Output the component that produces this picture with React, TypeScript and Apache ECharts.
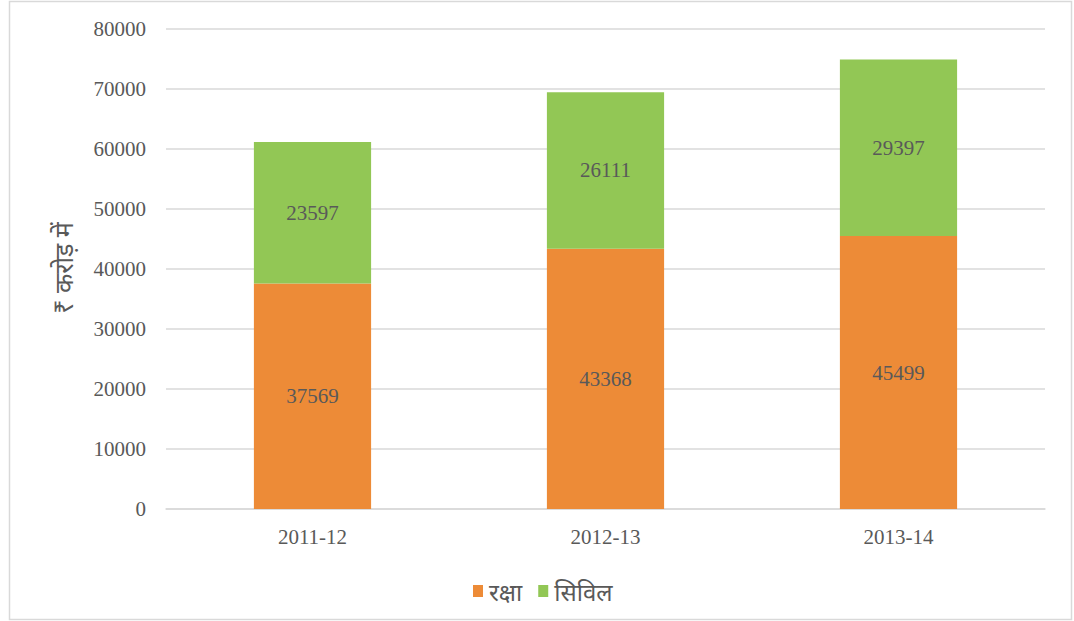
import React, { useEffect, useRef } from "react";
import * as echarts from "echarts";

const categories = ["2011-12", "2012-13", "2013-14"];
const rakshaValues = [37569, 43368, 45499];
const civilValues = [23597, 26111, 29397];
const seriesNames = ["रक्षा", "सिविल"];
const yAxisTitle = "₹ करोड़ में";

const SERIF = "'Liberation Serif', 'Times New Roman', serif";

export default function App() {
  const ref = useRef<HTMLDivElement>(null);
  useEffect(() => {
    const chart = echarts.init(ref.current!, null, { renderer: "svg" });
    const labelStyle = {
      show: true,
      position: "inside" as const,
      color: "#595959",
      fontFamily: SERIF,
      fontSize: 21,
    };
    chart.setOption({
      animation: false,
      backgroundColor: "#ffffff",
      grid: { left: 166, right: 29, top: 29, bottom: 112 },
      xAxis: {
        type: "category",
        data: categories,
        axisLine: { lineStyle: { color: "#D9D9D9", width: 1.5 } },
        axisTick: { show: false },
        axisLabel: {
          color: "#595959",
          fontFamily: SERIF,
          fontSize: 21,
          margin: 17,
        },
      },
      yAxis: {
        type: "value",
        min: 0,
        max: 80000,
        interval: 10000,
        axisLine: { show: false },
        axisTick: { show: false },
        splitLine: { lineStyle: { color: "#D9D9D9", width: 1.5 } },
        axisLabel: {
          color: "#595959",
          fontFamily: SERIF,
          fontSize: 21,
          margin: 20,
          formatter: (v: number) => String(v),
        },
      },
      legend: {
        bottom: 13,
        left: 468,
        itemWidth: 10,
        itemHeight: 12,
        itemGap: 16,
        icon: "rect",
        textStyle: {
          color: "#595959",
          fontFamily: "Noto Sans",
          fontSize: 24,
          padding: [0, 0, 0, 1],
        },
        data: seriesNames,
      },
      series: [
        {
          name: seriesNames[0],
          type: "bar",
          stack: "total",
          barWidth: "40%",
          data: rakshaValues,
          itemStyle: { color: "#ED8B37" },
          label: labelStyle,
        },
        {
          name: seriesNames[1],
          type: "bar",
          stack: "total",
          barWidth: "40%",
          data: civilValues,
          itemStyle: { color: "#92C755" },
          label: labelStyle,
        },
      ],
      graphic: [
        {
          type: "rect",
          shape: { x: 9.5, y: 1.5, width: 1062, height: 618 },
          style: { fill: "none", stroke: "#D9D9D9", lineWidth: 1.5 },
          silent: true,
        },
        {
          type: "text",
          x: 63,
          y: 268,
          rotation: Math.PI / 2,
          style: {
            text: yAxisTitle,
            fill: "#595959",
            fontFamily: "Noto Sans",
            fontSize: 25,
            align: "center",
            verticalAlign: "middle",
          },
        },
      ],
    });
    return () => chart.dispose();
  }, []);
  return (
    <div
      ref={ref}
      style={{ position: "absolute", left: 0, top: 0, width: 1074, height: 621 }}
    />
  );
}
